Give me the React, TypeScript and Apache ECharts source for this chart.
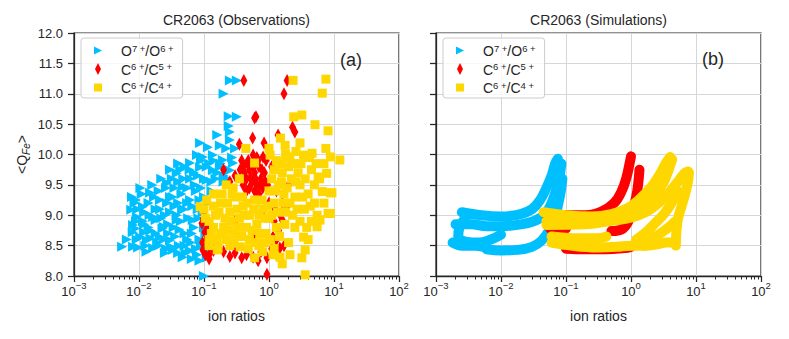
import React, { useEffect, useRef } from 'react';
import * as echarts from 'echarts';

// ---------- data ----------
const speciesNames = ['O7+/O6+', 'C6+/C5+', 'C6+/C4+'];
const speciesColors = ['#00BFFF', '#FF0000', '#FFD700'];
const panelTitles = ['CR2063 (Observations)', 'CR2063 (Simulations)'];
const panelTags = ['(a)', '(b)'];
const xAxisName = 'ion ratios';
const yAxisName = '{b|<Q}{sub|Fe}{b|>}';
const xMin = 0.001;
const xMax = 100;
const yMin = 8;
const yMax = 12;
const yInterval = 0.5;

// Observations: [ion ratio, <Q_Fe>]
const obsO7O6: [number, number][] = [
  [0.25, 11.22], [0.32, 11.22], [0.2, 11.0], [0.24, 10.63], [0.32, 10.62], [0.24, 10.47], [0.25, 10.37],
  [0.16, 10.32], [0.25, 10.24], [0.087, 10.19], [0.115, 10.12], [0.175, 10.15], [0.22, 10.1], [0.3, 10.1],
  [0.078, 9.99], [0.096, 9.96], [0.137, 9.99], [0.195, 9.91], [0.28, 9.86], [0.061, 9.86], [0.087, 9.79],
  [0.11, 9.58], [0.137, 9.74], [0.175, 9.8], [0.25, 9.74], [0.038, 9.69], [0.047, 9.47], [0.027, 9.53],
  [0.061, 9.6], [0.07, 9.7], [0.05, 9.8], [0.15, 9.6], [0.2, 9.65], [0.09, 9.45], [0.13, 9.4],
  [0.0078, 9.3], [0.0148, 9.37], [0.021, 9.25], [0.03, 9.3], [0.061, 9.25], [0.0115, 9.14], [0.0076, 9.09],
  [0.0165, 8.97], [0.0093, 8.97], [0.046, 9.09], [0.038, 8.92], [0.067, 8.92], [0.024, 8.81], [0.0081, 8.84],
  [0.008, 8.72], [0.0104, 8.64], [0.021, 8.64], [0.042, 8.76], [0.0132, 8.59], [0.03, 8.59], [0.055, 8.6],
  [0.0165, 8.46], [0.033, 8.43], [0.047, 8.31], [0.078, 8.35], [0.0055, 8.48], [0.0081, 8.48], [0.0097, 8.47],
  [0.1, 8.0], [0.018, 9.1], [0.025, 9.0], [0.035, 9.15], [0.045, 9.35], [0.055, 9.2], [0.08, 9.1],
  [0.012, 8.85], [0.015, 8.75], [0.028, 8.7], [0.05, 8.5], [0.065, 8.7], [0.085, 8.6], [0.02, 8.5],
  [0.012, 9.05], [0.04, 9.55], [0.075, 9.4], [0.1, 9.3], [0.1, 8.8], [0.06, 8.42], [0.025, 8.38],
  [0.0085, 9.2], [0.0065, 8.6], [0.035, 9.45], [0.12, 9.85], [0.09, 9.9],
  [0.009, 9.25], [0.0095, 9.1], [0.009, 8.9], [0.0088, 8.78], [0.0092, 8.6], [0.011, 9.35], [0.0115, 8.9],
  [0.012, 8.72], [0.0125, 8.5], [0.014, 9.2], [0.0145, 9.0], [0.014, 8.8], [0.015, 8.62], [0.017, 9.3],
  [0.018, 8.92], [0.018, 8.7], [0.019, 8.55], [0.02, 9.4], [0.021, 9.1], [0.022, 8.95], [0.023, 8.78],
  [0.024, 8.6], [0.026, 9.45], [0.027, 9.2], [0.028, 8.85], [0.03, 9.05], [0.031, 8.48], [0.032, 9.6],
  [0.033, 9.3], [0.034, 8.8], [0.036, 8.65], [0.038, 9.0], [0.04, 9.2], [0.041, 8.5], [0.043, 9.75],
  [0.044, 8.9], [0.048, 9.6], [0.049, 9.1], [0.05, 8.7], [0.052, 8.38], [0.055, 9.45], [0.057, 8.95],
  [0.06, 9.75], [0.062, 8.55], [0.066, 9.15], [0.07, 8.8], [0.072, 9.5], [0.075, 8.45], [0.08, 9.65],
  [0.082, 8.95], [0.085, 9.25], [0.09, 8.5], [0.095, 9.05], [0.1, 9.6], [0.105, 8.7], [0.11, 9.8],
  [0.115, 9.2], [0.13, 9.55], [0.14, 9.9], [0.16, 9.7], [0.18, 9.85], [0.2, 9.55], [0.23, 9.6],
  [0.27, 9.95], [0.12, 8.45], [0.11, 8.3], [0.085, 8.25], [0.065, 8.28], [0.04, 8.38], [0.026, 8.45],
  [0.013, 8.4], [0.0105, 9.45], [0.016, 9.5], [0.022, 9.6], [0.03, 9.75], [0.04, 9.85],
];
const obsC6C5: [number, number][] = [
  [0.41, 11.22], [1.9, 11.22], [1.7, 11.0], [0.63, 10.62], [0.6, 10.6], [2.3, 10.45], [2.5, 10.37],
  [0.56, 10.27], [0.84, 10.19], [0.35, 10.17], [1.38, 10.32], [0.57, 9.99], [0.46, 9.86], [0.81, 9.96],
  [0.4, 9.8], [0.5, 9.75], [0.6, 9.7], [0.7, 9.8], [0.45, 9.6], [0.55, 9.55], [0.65, 9.5], [0.75, 9.6],
  [0.85, 9.7], [0.5, 9.45], [0.6, 9.4], [0.7, 9.35], [0.4, 9.5], [0.9, 9.9], [0.38, 9.9], [0.3, 9.65],
  [0.95, 9.5], [1.1, 9.8], [0.096, 8.43], [0.11, 8.6], [0.093, 8.87], [0.103, 8.72], [0.12, 8.35],
  [0.13, 8.5], [0.1, 9.0], [0.12, 8.28], [0.3, 8.38], [0.57, 8.31], [0.93, 8.3], [1.47, 8.46], [1.15, 8.64],
  [1.6, 8.92], [1.9, 9.14], [0.93, 8.03], [0.2, 8.4], [0.45, 8.35], [0.75, 8.4], [1.3, 8.6], [1.5, 9.0],
  [1.6, 9.2], [2.0, 9.5], [1.3, 9.4], [0.2, 9.75], [0.25, 9.55], [0.3, 8.9], [0.6, 8.7], [0.8, 9.0], [1.0, 9.2],
  [0.42, 9.7], [0.48, 9.9], [0.55, 9.85], [0.62, 9.6], [0.68, 9.9], [0.78, 9.75], [0.88, 9.55], [0.45, 9.4],
  [0.52, 9.62], [0.58, 9.8], [0.72, 9.5], [0.8, 9.45], [0.36, 9.75], [0.65, 9.95], [0.095, 8.55], [0.105, 8.35],
  [0.115, 8.8], [0.098, 8.95], [0.125, 8.65], [0.14, 8.42], [1.2, 8.9], [1.4, 8.75], [1.7, 8.5], [1.1, 8.45],
  [0.25, 8.32], [0.38, 8.3], [0.68, 8.25], [1.25, 9.1],
];
const obsC6C4: [number, number][] = [
  [2.35, 11.22], [7.5, 11.24], [6.6, 11.01], [2.4, 10.62], [3.2, 10.65], [5.1, 10.49], [8.1, 10.39],
  [1.5, 10.27], [3.0, 10.19], [1.77, 10.15], [7.5, 10.1], [0.44, 10.1], [12.3, 9.91], [8.8, 9.96],
  [3.4, 9.99], [4.6, 10.02], [2.1, 9.96], [1.04, 9.99], [0.6, 9.86], [0.087, 9.14], [0.16, 8.43],
  [0.36, 8.48], [1.47, 8.31], [2.1, 8.35], [3.6, 8.43], [3.4, 8.64], [3.6, 8.02], [5.5, 8.81], [8.8, 9.03],
  [8.8, 9.37], [5.7, 9.63], [7.7, 9.69], [9.3, 9.37], [6.6, 9.39], [8.1, 9.03], [6.1, 8.92], [0.165, 8.46],
  [0.1, 9.1], [0.12, 8.9], [0.13, 8.7], [0.15, 9.0], [0.18, 9.2], [0.2, 8.8], [0.22, 8.6], [0.25, 9.05],
  [0.3, 9.3], [0.3, 8.7], [0.35, 8.95], [0.4, 9.15], [0.45, 8.8], [0.5, 8.6], [0.5, 9.0], [0.6, 9.25],
  [0.65, 8.85], [0.7, 8.5], [0.8, 9.1], [0.9, 8.7], [1.0, 9.4], [1.0, 8.95], [1.1, 9.6], [1.2, 9.2],
  [1.3, 8.8], [1.4, 9.5], [1.6, 9.7], [1.7, 9.35], [1.8, 9.05], [2.0, 9.8], [2.2, 9.6], [2.5, 9.3],
  [2.8, 9.7], [3.0, 9.5], [3.5, 9.1], [4.0, 9.35], [4.5, 9.75], [4.5, 8.9], [2.5, 8.8], [2.0, 8.55],
  [1.2, 8.45], [0.8, 8.4], [0.25, 8.5], [0.14, 9.35], [0.22, 9.5], [0.35, 9.6], [0.28, 9.45],
  [1.3, 9.9], [1.8, 10.0], [2.6, 10.05], [0.12, 8.5], [5.0, 9.2], [6.0, 9.6], [3.2, 8.3], [0.6, 8.3],
  [1.6, 8.2], [4.0, 8.6],
  [0.105, 8.95], [0.11, 9.25], [0.12, 8.6], [0.14, 8.8], [0.14, 9.15], [0.16, 8.6], [0.17, 9.05],
  [0.18, 8.7], [0.19, 9.35], [0.21, 8.95], [0.23, 9.2], [0.24, 8.75], [0.26, 8.9], [0.27, 9.35],
  [0.29, 8.55], [0.32, 9.1], [0.33, 8.8], [0.38, 8.65], [0.39, 9.3], [0.42, 9.0], [0.46, 9.2],
  [0.48, 8.45], [0.55, 8.75], [0.58, 9.1], [0.62, 8.55], [0.7, 9.0], [0.72, 8.7], [0.78, 9.25],
  [0.85, 8.55], [0.88, 8.95], [0.95, 9.15], [1.05, 8.6], [1.1, 9.0], [1.15, 8.35], [1.2, 9.75],
  [1.25, 9.4], [1.35, 9.05], [1.45, 8.65], [1.5, 9.85], [1.55, 9.55], [1.65, 9.2], [1.75, 8.85],
  [1.9, 9.45], [1.95, 9.95], [2.1, 9.2], [2.3, 9.0], [2.4, 9.85], [2.6, 9.55], [2.7, 9.1], [3.0, 8.9],
  [3.1, 9.85], [3.3, 9.3], [3.6, 9.6], [3.8, 8.8], [4.2, 9.95], [4.3, 9.15], [5.0, 9.5], [5.3, 9.85],
  [5.5, 9.0], [7.0, 9.2], [7.0, 9.85], [1.0, 10.1],
];

// Simulations: trajectories [ion ratio, <Q_Fe>]
const simO7O6: [number, number][][] = [
  [[0.0025, 9.05], [0.005, 9.0], [0.01, 8.98], [0.02, 9.02], [0.03, 9.1], [0.04, 9.25], [0.05, 9.45], [0.06, 9.65], [0.068, 9.85], [0.075, 9.93]],
  [[0.002, 8.85], [0.0035, 8.85], [0.006, 8.82], [0.01, 8.82], [0.02, 8.85], [0.035, 8.92], [0.05, 9.05], [0.065, 9.3], [0.078, 9.6], [0.085, 9.85]],
  [[0.0028, 8.95], [0.0023, 8.8], [0.0022, 8.65], [0.003, 8.56], [0.0045, 8.55], [0.007, 8.6], [0.01, 8.68]],
  [[0.006, 8.44], [0.01, 8.42], [0.018, 8.43], [0.03, 8.48], [0.042, 8.58], [0.055, 8.75], [0.068, 8.98], [0.08, 9.3], [0.088, 9.6]],
  [[0.0018, 8.55], [0.0025, 8.5], [0.004, 8.5], [0.006, 8.47]],
];
const simC6C5: [number, number][][] = [
  [[0.05, 9.02], [0.1, 9.0], [0.2, 9.0], [0.35, 9.06], [0.55, 9.2], [0.72, 9.4], [0.85, 9.62], [0.95, 9.85], [1.0, 9.97]],
  [[0.5, 8.74], [0.75, 8.78], [1.0, 9.0], [1.2, 9.3], [1.3, 9.55], [1.35, 9.75]],
  [[0.1, 8.45], [0.2, 8.44], [0.4, 8.44], [0.8, 8.46], [1.0, 8.48]],
  [[0.057, 8.78], [0.08, 8.77], [0.1, 8.78]],
];
const simC6C4: [number, number][][] = [
  [[0.045, 9.05], [0.1, 9.0], [0.25, 8.98], [0.5, 9.02], [0.9, 9.12], [1.4, 9.28], [2.1, 9.48], [2.8, 9.68], [3.4, 9.85], [4.0, 9.96]],
  [[0.05, 8.9], [0.2, 8.9], [0.5, 8.93], [1.0, 9.02], [1.6, 9.15], [2.4, 9.35], [3.2, 9.55], [3.8, 9.75], [4.3, 9.92]],
  [[0.05, 8.84], [0.2, 8.85], [0.45, 8.9], [0.8, 8.94], [1.3, 9.0], [2.0, 9.1], [3.0, 9.25], [4.2, 9.42], [5.5, 9.58], [6.8, 9.7], [7.6, 9.72]],
  [[0.06, 8.65], [0.15, 8.62], [0.3, 8.62], [0.42, 8.65]],
  [[0.06, 8.55], [0.12, 8.5], [0.3, 8.47], [0.6, 8.48], [1.0, 8.5], [1.6, 8.5], [2.5, 8.52], [3.5, 8.55], [4.8, 8.55]],
  [[4.9, 8.5], [5.0, 8.75], [5.3, 8.95], [6.0, 9.15], [6.8, 9.35], [7.5, 9.55], [7.8, 9.7]],
  [[1.2, 8.6], [1.7, 8.72], [2.4, 8.88], [3.2, 9.02], [4.2, 9.2], [5.2, 9.4]],
  [[1.6, 8.5], [2.2, 8.62], [3.0, 8.72], [4.0, 8.82], [4.8, 8.9]],
];

// ---------- styling ----------
const AXIS_COLOR = '#262626';
const GRID_COLOR = '#d6d6d6';
const FONT = "'Liberation Sans', Arial, Helvetica, sans-serif";

const grids = [
  { left: 74, top: 33, width: 325, height: 243 },
  { left: 436, top: 33, width: 325, height: 243 },
];
const legendLefts = [81, 443];
const tagPos = [[351, 60], [713, 59]];

const obsSymbols: any[] = [
  { symbol: 'path://M0,0L10,5L0,10Z', size: [10, 10] },
  { symbol: 'diamond', size: [7, 13] },
  { symbol: 'rect', size: [9, 9] },
];
const legendIcons = [
  'path://M0,0M14,14M3,3L11,7L3,11Z',
  'path://M0,0M14,14M7,1L10,7L7,13L4,7Z',
  'path://M0,0M14,14M3,3L11,3L11,11L3,11Z',
];

const minorTicks: number[] = [];
for (let e = -3; e < 2; e++) {
  for (let k = 2; k < 10; k++) minorTicks.push(k * Math.pow(10, e));
}

const supMinus = (n: number) => (n < 0 ? '\u2212' + Math.abs(n) : String(n));

function legendName(name: string) {
  const m = name.match(/^([A-Za-z]+)(\d+)\+\/([A-Za-z]+)(\d+)\+$/);
  if (!m) return name;
  return `{b|${m[1]}}{s|${m[2]} +}{b|/${m[3]}}{s|${m[4]} +}`;
}

function buildOption() {
  const xAxis: any[] = [];
  const yAxis: any[] = [];
  grids.forEach((g, i) => {
    xAxis.push({
      type: 'log',
      logBase: 10,
      gridIndex: i,
      position: 'bottom',
      min: xMin,
      max: xMax,
      axisLine: { show: true, onZero: false, lineStyle: { color: AXIS_COLOR, width: 1.25 } },
      axisTick: { show: true, inside: false, length: 6, lineStyle: { color: AXIS_COLOR, width: 1.25 } },
      splitLine: { show: true, lineStyle: { color: GRID_COLOR, width: 1 } },
      axisLabel: {
        show: true,
        margin: 4,
        showMinLabel: true,
        showMaxLabel: true,
        hideOverlap: false,
        formatter: (v: number) => `{b|10}{s|${supMinus(Math.round(Math.log10(v)))}}`,
        rich: {
          b: { fontSize: 13, lineHeight: 14, padding: [9, 0, 0, 0], color: AXIS_COLOR, fontFamily: FONT },
          s: { fontSize: 9.5, lineHeight: 10, verticalAlign: 'top', color: AXIS_COLOR, fontFamily: FONT },
        },
      },
      name: xAxisName,
      nameLocation: 'middle',
      nameGap: 33,
      nameTextStyle: { fontSize: 14, color: AXIS_COLOR, fontFamily: FONT },
    });
  });
  grids.forEach((g, i) => {
    xAxis.push({
      type: 'log',
      logBase: 10,
      gridIndex: i,
      position: 'bottom',
      min: xMin,
      max: xMax,
      axisLine: { show: false },
      axisTick: { show: true, inside: false, length: 3.5, customValues: minorTicks, lineStyle: { color: AXIS_COLOR, width: 1 } },
      axisLabel: { show: false },
      splitLine: { show: false },
    });
  });
  grids.forEach((g, i) => {
    yAxis.push({
      type: 'value',
      gridIndex: i,
      position: 'left',
      min: yMin,
      max: yMax,
      interval: yInterval,
      axisLine: { show: true, onZero: false, lineStyle: { color: AXIS_COLOR, width: 1.25 } },
      axisTick: { show: true, inside: false, length: 6, lineStyle: { color: AXIS_COLOR, width: 1.25 } },
      splitLine: { show: true, lineStyle: { color: GRID_COLOR, width: 1 } },
      axisLabel: {
        show: i === 0,
        margin: 11,
        fontSize: 13,
        color: AXIS_COLOR,
        fontFamily: FONT,
        formatter: (v: number) => v.toFixed(1),
      },
      name: i === 0 ? yAxisName : '',
      nameLocation: 'middle',
      nameRotate: 90,
      nameGap: 43,
      nameTextStyle: {
        color: AXIS_COLOR,
        fontFamily: FONT,
        rich: {
          b: { fontSize: 14, lineHeight: 16, padding: [0, 0, 1, 0], verticalAlign: 'top', color: AXIS_COLOR, fontFamily: FONT },
          sub: { fontSize: 10, lineHeight: 10, verticalAlign: 'bottom', fontStyle: 'italic', color: AXIS_COLOR, fontFamily: FONT },
        },
      },
    });
  });

  const series: any[] = [];
  const obs = [obsO7O6, obsC6C5, obsC6C4];
  obs.forEach((d, k) => {
    series.push({
      type: 'scatter',
      name: speciesNames[k],
      xAxisIndex: 0,
      yAxisIndex: 0,
      data: d,
      symbol: obsSymbols[k].symbol,
      symbolSize: obsSymbols[k].size,
      itemStyle: { color: speciesColors[k], opacity: 1 },
      z: 2 + k,
      silent: true,
    });
  });
  const sims = [simO7O6, simC6C5, simC6C4];
  sims.forEach((trajs, k) => {
    trajs.forEach((t) => {
      series.push({
        type: 'line',
        name: speciesNames[k],
        xAxisIndex: 1,
        yAxisIndex: 1,
        data: t,
        showSymbol: false,
        symbol: 'none',
        smooth: 0.4,
        color: speciesColors[k],
        itemStyle: { color: speciesColors[k] },
        lineStyle: { color: speciesColors[k], width: 10, cap: 'round', join: 'round' },
        z: 2 + k,
        silent: true,
      });
    });
  });

  const legend = legendLefts.map((left) => ({
    show: true,
    left,
    top: 38,
    orient: 'vertical',
    itemWidth: 14,
    itemHeight: 14,
    itemGap: 3.5,
    padding: [5, 9, 3, 10],
    backgroundColor: 'rgba(255,255,255,0.8)',
    borderColor: '#cccccc',
    borderWidth: 1,
    borderRadius: 3,
    selectedMode: false,
    z: 10,
    formatter: (name: string) => legendName(name),
    textStyle: {
      color: AXIS_COLOR,
      fontFamily: FONT,
      padding: [0, 0, 0, 11],
      rich: {
        b: { fontSize: 14, lineHeight: 15, padding: [1, 0, 0, 0], color: AXIS_COLOR, fontFamily: FONT },
        s: { fontSize: 9.5, lineHeight: 9, verticalAlign: 'top', color: AXIS_COLOR, fontFamily: FONT },
      },
    },
    data: speciesNames.map((n, k) => ({ name: n, icon: legendIcons[k], itemStyle: { color: speciesColors[k] } })),
  }));

  const title = panelTitles.map((t, i) => ({
    text: t,
    left: grids[i].left + grids[i].width / 2,
    top: 13,
    textAlign: 'center',
    padding: 0,
    textStyle: { fontSize: 14, fontWeight: 'normal', color: AXIS_COLOR, fontFamily: FONT },
  }));

  const graphic = panelTags.map((t, i) => ({
    type: 'text',
    x: tagPos[i][0],
    y: tagPos[i][1],
    z: 20,
    style: {
      text: t,
      fontSize: 18,
      fontFamily: FONT,
      fill: AXIS_COLOR,
      align: 'center',
      verticalAlign: 'middle',
      textAlign: 'center',
      textVerticalAlign: 'middle',
    },
  }));

  return {
    animation: false,
    backgroundColor: '#ffffff',
    textStyle: { fontFamily: FONT },
    title,
    legend,
    grid: grids.map((g) => ({ ...g, show: true, borderColor: AXIS_COLOR, borderWidth: 1.25, backgroundColor: 'transparent' })),
    xAxis,
    yAxis,
    series,
    graphic,
  };
}

export default function App() {
  const ref = useRef<HTMLDivElement>(null);
  useEffect(() => {
    if (!ref.current) return;
    const chart = echarts.init(ref.current, undefined, { renderer: 'svg' });
    chart.setOption(buildOption() as any);
    return () => chart.dispose();
  }, []);
  return (
    <div
      ref={ref}
      style={{ position: 'fixed', left: 0, top: 0, width: 789, height: 339, background: '#fff' }}
    />
  );
}
